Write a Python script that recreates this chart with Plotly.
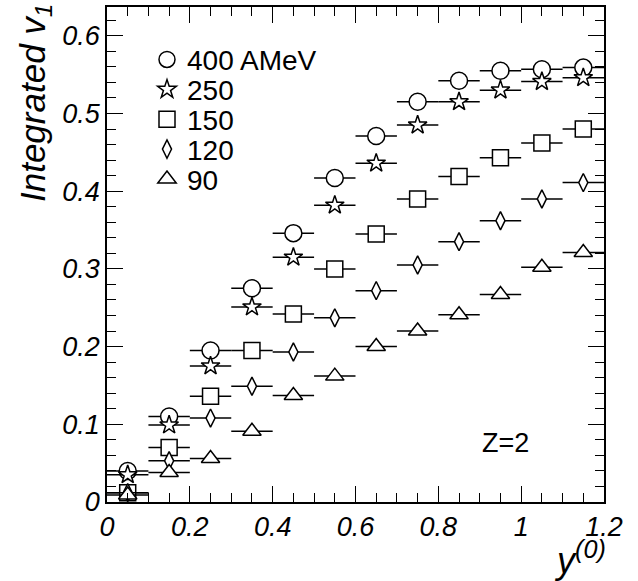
import plotly.graph_objects as go

# ---- data ----
y0_bins = [0.05, 0.15, 0.25, 0.35, 0.45, 0.55, 0.65, 0.75, 0.85, 0.95, 1.05, 1.15]
bin_half_width = [0.05] * 12

v1_400 = [0.040, 0.110, 0.195, 0.275, 0.346, 0.417, 0.471, 0.515, 0.542, 0.555, 0.557, 0.559]
v1_250 = [0.035, 0.099, 0.175, 0.251, 0.315, 0.382, 0.436, 0.485, 0.515, 0.530, 0.541, 0.546]
v1_150 = [0.012, 0.070, 0.136, 0.195, 0.242, 0.300, 0.345, 0.390, 0.419, 0.443, 0.462, 0.480]
v1_120 = [0.012, 0.053, 0.108, 0.149, 0.193, 0.237, 0.272, 0.305, 0.335, 0.362, 0.390, 0.411]
v1_90 = [0.009, 0.038, 0.056, 0.091, 0.137, 0.162, 0.200, 0.220, 0.241, 0.267, 0.302, 0.321]

series_names = ["400 AMeV", "250", "150", "120", "90"]
series_values = [v1_400, v1_250, v1_150, v1_120, v1_90]

x_ticks = [0, 0.2, 0.4, 0.6, 0.8, 1.0, 1.2]
y_ticks = [0, 0.1, 0.2, 0.3, 0.4, 0.5, 0.6]

# ---- styling ----
FONT = "Liberation Sans, Arial, Helvetica, sans-serif"
symbols = ["circle", "star", "square", "diamond-tall", "triangle-up"]
sizes = [17, 14, 16, 13, 16]

W, H = 638, 581
L, R, T, B = 107, 34, 5, 79
PW, PH = W - L - R, H - T - B

def px_to_paper_x(px):
    return (px - L) / PW

def px_to_paper_y(py):
    return (H - B - py) / PH

fig = go.Figure()
legend_rows = [58, 88, 118, 148, 178]
for i, (name, vals) in enumerate(zip(series_names, series_values)):
    lid = "legend" if i == 0 else f"legend{i+1}"
    fig.add_trace(go.Scatter(
        x=y0_bins, y=vals, mode="markers", name=name,
        legend=lid,
        marker=dict(symbol=symbols[i], size=sizes[i], color="white",
                    line=dict(color="black", width=1.5)),
        error_x=dict(type="data", array=bin_half_width, visible=True,
                     color="black", thickness=1.5, width=0),
        cliponaxis=False,
    ))

legend_common = dict(
    font=dict(family=FONT, size=28, color="black"),
    bgcolor="rgba(0,0,0,0)", borderwidth=0,
    xanchor="left", yanchor="middle",
    itemsizing="trace",
)
layout_legends = {}
for i, row in enumerate(legend_rows):
    key = "legend" if i == 0 else f"legend{i+1}"
    layout_legends[key] = dict(legend_common, x=px_to_paper_x(147), y=px_to_paper_y(row))

axis_common = dict(
    showgrid=False, zeroline=False,
    showline=True, linecolor="black", linewidth=1.5, mirror="allticks",
    ticks="inside", tickcolor="black", tickwidth=1, ticklen=16,
    tickfont=dict(family=FONT, size=27, color="black", style="italic"),
)

fig.update_layout(
    width=W, height=H,
    margin=dict(l=L, r=R, t=T, b=B),
    paper_bgcolor="white", plot_bgcolor="white",
    showlegend=True,
    xaxis=dict(axis_common, range=[0, 1.2], tickvals=x_ticks,
               ticktext=["0", "0.2", "0.4", "0.6", "0.8", "1", "1.2"],
               minor=dict(dtick=0.05, tick0=0, ticks="inside", ticklen=9,
                          tickcolor="black", tickwidth=1)),
    yaxis=dict(axis_common, range=[0, 0.637], tickvals=y_ticks,
               ticktext=["0", "0.1", "0.2", "0.3", "0.4", "0.5", "0.6"],
               minor=dict(dtick=0.02, tick0=0, ticks="inside", ticklen=9,
                          tickcolor="black", tickwidth=1)),
    **layout_legends,
)

fig.add_annotation(
    text="<i>Integrated v<sub>1</sub></i>", textangle=-90,
    xref="paper", yref="paper", x=px_to_paper_x(35), y=px_to_paper_y(0),
    xanchor="center", yanchor="top", showarrow=False,
    font=dict(family=FONT, size=35, color="black"),
)
fig.add_annotation(
    text="<i>y<sup>(0)</sup></i>",
    xref="paper", yref="paper", x=px_to_paper_x(608), y=px_to_paper_y(583),
    xanchor="right", yanchor="bottom", showarrow=False,
    font=dict(family=FONT, size=36, color="black"),
)
fig.add_annotation(
    text="Z=2",
    xref="paper", yref="paper", x=px_to_paper_x(505), y=px_to_paper_y(443),
    xanchor="center", yanchor="middle", showarrow=False,
    font=dict(family=FONT, size=27, color="black"),
)

fig.write_html("out.html")
